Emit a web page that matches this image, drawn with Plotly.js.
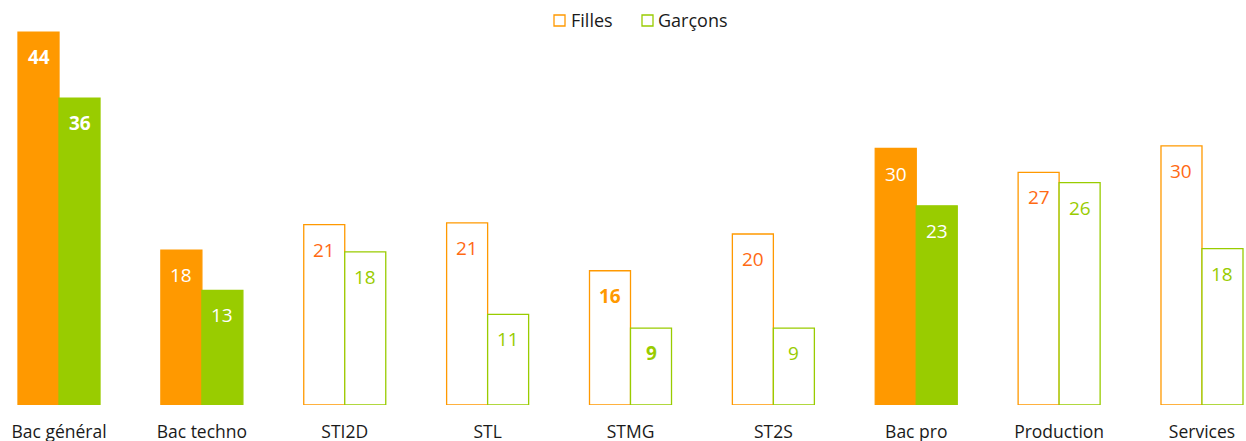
<!DOCTYPE html>
<html>
<head>
<meta charset="utf-8">
<script src="https://cdn.plot.ly/plotly-3.0.1.min.js"></script>
<style>html,body{margin:0;padding:0;background:#fff;}#chart{width:1246px;height:441px;}</style>
</head>
<body>
<div id="chart"></div>
<script>
const categories = ["Bac général", "Bac techno", "STI2D", "STL", "STMG", "ST2S", "Bac pro", "Production", "Services"];
const filles = [43.6, 18.1, 21.1, 21.3, 15.7, 20.0, 30.0, 27.2, 30.3];
const garcons = [35.9, 13.4, 17.9, 10.6, 9.0, 9.0, 23.3, 26.0, 18.3];
const fillesLabels = ["44", "18", "21", "21", "16", "20", "30", "27", "30"];
const garconsLabels = ["36", "13", "18", "11", "9", "9", "23", "26", "18"];
const filled = [true, true, false, false, false, false, true, false, false];
const boldLabels = [true, false, false, false, true, false, false, false, false];
const seriesNames = ["Filles", "Garçons"];

const ORANGE = "#FF9900", GREEN = "#99CC00", ORANGE_TXT = "#FF6A13";
const FONT = "Open Sans, Noto Sans, sans-serif";
const W = 1246, PLOT_H = 405;

function barTrace(name, vals, color, group) {
  return {
    type: "bar", name: name, x: categories, y: vals, offsetgroup: group, showlegend: false,
    marker: {
      color: filled.map(f => f ? color : "#FFFFFF"),
      line: {color: color, width: 1.3}
    },
    hoverinfo: "x+y"
  };
}

const data = [
  barTrace(seriesNames[0], filles, ORANGE, "f"),
  barTrace(seriesNames[1], garcons, GREEN, "g")
];

const annotations = [];
categories.forEach((c, i) => {
  const fCol = filled[i] ? "#FFFFFF" : (boldLabels[i] ? ORANGE : ORANGE_TXT);
  const gCol = filled[i] ? "#FFFFFF" : GREEN;
  annotations.push({
    x: c, y: filles[i], xref: "x", yref: "y", xshift: -20.5, yshift: -25,
    text: boldLabels[i] ? "<b>" + fillesLabels[i] + "</b>" : fillesLabels[i],
    showarrow: false, yanchor: "middle", xanchor: "center",
    font: {family: FONT, size: 19, color: fCol}
  });
  annotations.push({
    x: c, y: garcons[i], xref: "x", yref: "y", xshift: 20.5, yshift: -25,
    text: boldLabels[i] ? "<b>" + garconsLabels[i] + "</b>" : garconsLabels[i],
    showarrow: false, yanchor: "middle", xanchor: "center",
    font: {family: FONT, size: 19, color: gCol}
  });
});

// manual legend (outlined squares + text)
const legendItems = [
  {name: seriesNames[0], color: ORANGE, sq: 554, tx: 569},
  {name: seriesNames[1], color: GREEN, sq: 642, tx: 656}
];
const shapes = [];
legendItems.forEach(it => {
  shapes.push({
    type: "rect", xref: "paper", yref: "paper",
    x0: it.sq / W, x1: (it.sq + 11) / W,
    y0: 1 - 26 / PLOT_H, y1: 1 - 15 / PLOT_H,
    line: {color: it.color, width: 1.3}, fillcolor: "#FFFFFF"
  });
  annotations.push({
    xref: "paper", yref: "paper", x: it.tx / W, y: 1 - 20.5 / PLOT_H,
    xanchor: "left", yanchor: "middle", showarrow: false, text: it.name,
    font: {family: FONT, size: 18, color: "#1A1A1A"}
  });
});

const layout = {
  width: W, height: 441,
  margin: {l: 0, r: 0, t: 0, b: 36},
  paper_bgcolor: "#FFFFFF", plot_bgcolor: "#FFFFFF",
  barmode: "group", bargap: 0.426, bargroupgap: 0,
  font: {family: FONT, size: 17, color: "#1A1A1A"},
  xaxis: {
    type: "category", range: [-0.413, 8.308], showgrid: false, zeroline: false,
    showline: false, ticks: "", ticklabelstandoff: 14,
    tickfont: {family: FONT, size: 17.5, color: "#1A1A1A"}, fixedrange: true
  },
  yaxis: {
    range: [0, 47.37], visible: false, showgrid: false, zeroline: false, fixedrange: true
  },
  annotations: annotations,
  shapes: shapes,
  showlegend: false
};

Plotly.newPlot("chart", data, layout, {displayModeBar: false, staticPlot: true});
</script>
</body>
</html>
